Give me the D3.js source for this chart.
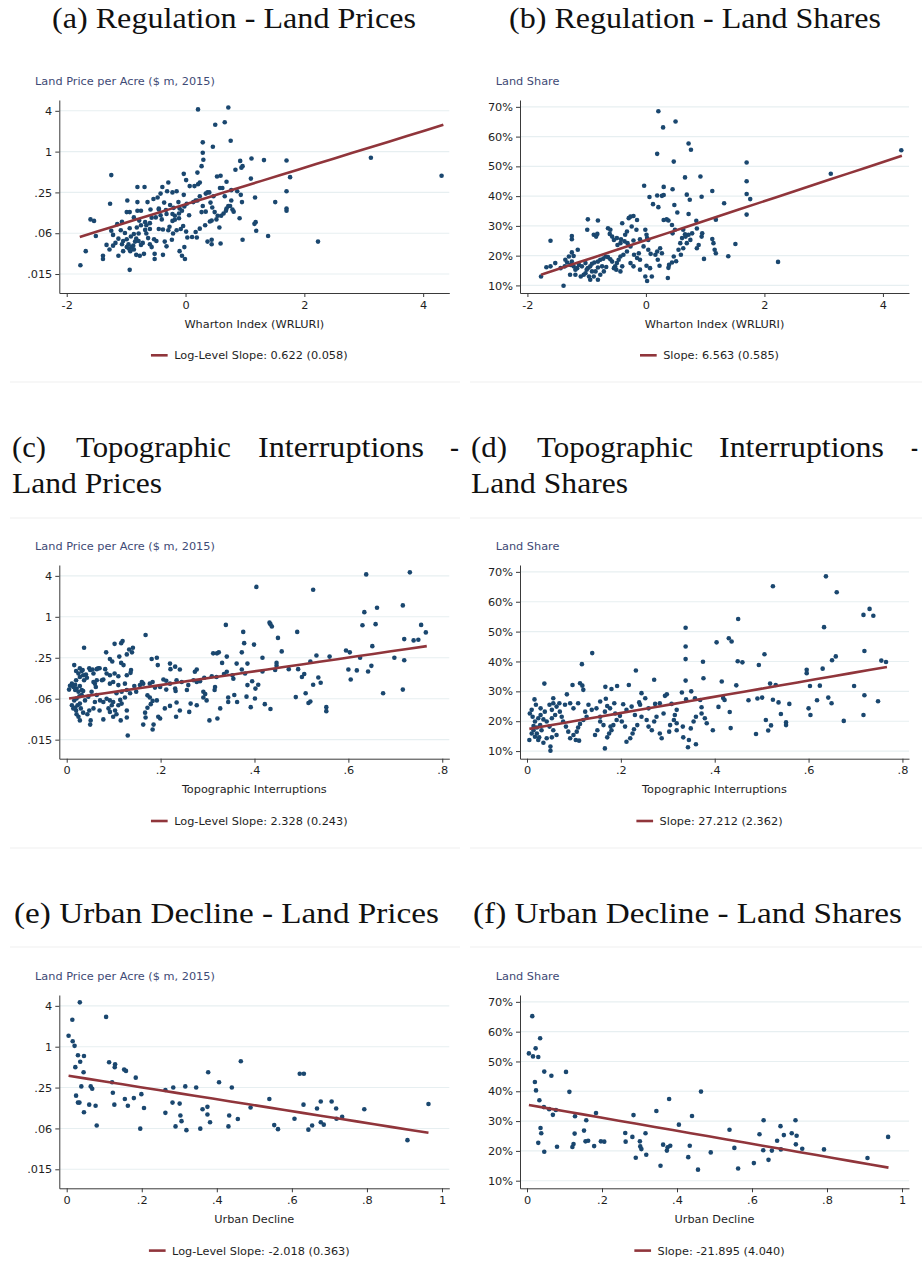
<!DOCTYPE html>
<html><head><meta charset="utf-8">
<script src="https://cdn.jsdelivr.net/npm/d3@7"></script>
<style>body{margin:0;background:#fff}</style>
</head><body>
<svg id="c" width="922" height="1270"></svg>
<script>
// ---------------- DATA ----------------
// (a) Wharton index vs land price per acre ($ m, 2015)
const regulationPrices = [
[0.21,4.2],[0.72,4.47],[0.50,2.49],[0.66,2.71],[1.70,0.74],[1.32,0.75],[3.12,0.81],[4.31,0.44],[1.76,0.42],[1.70,0.26],[1.51,0.18],[1.70,0.145],[1.70,0.134],[1.39,0.057],[2.23,0.047],
[0.29,1.37],[0.46,1.18],[0.76,1.45],[0.29,0.96],[0.30,0.76],[0.27,0.61],[0.20,0.49],[1.11,0.79],[0.92,0.73],[0.96,0.61],[0.94,0.58],[0.84,0.54],[0.53,0.43],[0.59,0.44],[-0.03,0.47],[0.01,0.38],[-1.25,0.45],[0.07,0.31],[0.15,0.31],[0.21,0.33],[0.24,0.35],[-0.29,0.35],[-0.39,0.30],[-0.69,0.30],[-0.81,0.30],
[-0.31,0.26],[-0.22,0.25],[-0.15,0.26],[-0.42,0.24],[-0.03,0.23],[0.34,0.24],[0.37,0.25],[0.40,0.25],[0.47,0.22],[0.58,0.29],[0.62,0.29],[0.69,0.36],[1.10,0.40],[1.17,0.21],[0.95,0.18],[0.93,0.23],[0.87,0.26],[0.77,0.27],[0.66,0.22],[-0.47,0.21],[-0.54,0.20],[-1.27,0.17],[-0.98,0.19],[-0.81,0.18],[-0.64,0.18],
[-0.75,0.134],[-0.81,0.134],[-0.99,0.128],[-0.94,0.128],[-0.59,0.14],[-0.45,0.14],[-0.33,0.137],[-0.20,0.148],[-0.10,0.145],[0.02,0.17],[0.13,0.18],[0.20,0.19],[0.29,0.158],[0.34,0.13],[0.42,0.177],[0.45,0.15],[0.49,0.128],[0.54,0.113],[0.64,0.122],[0.69,0.145],[0.72,0.157],[0.79,0.14],[0.81,0.13],[0.91,0.104],[1.18,0.091],[1.16,0.086],[1.19,0.068],[0.96,0.05],[0.59,0.044],[0.44,0.05],[0.37,0.047],[0.33,0.082],[0.57,0.076],
[0.06,0.115],[-0.11,0.104],[-0.22,0.095],[-0.18,0.099],[-0.27,0.078],[-0.40,0.10],[-0.57,0.106],[-0.68,0.091],[-0.87,0.107],[-0.78,0.096],[-1.07,0.092],[-1.15,0.085],[-1.25,0.068],[-1.22,0.059],[-1.51,0.057],[-1.60,0.10],[-1.54,0.095],[-1.33,0.042],[-1.28,0.036],[-1.39,0.029],[-1.39,0.026],[-1.68,0.034],[-1.77,0.021],[-1.13,0.029],[-1.05,0.034],[-0.99,0.039],[-0.95,0.037],[-0.91,0.039],[-0.88,0.041],[-0.87,0.036],[-0.93,0.034],[-0.96,0.043],[-0.85,0.047],[-0.79,0.048],[-0.77,0.029],[-0.70,0.031],[-0.83,0.030],[-0.94,0.018],
[-0.52,0.026],[-0.52,0.031],[-0.38,0.030],[-0.32,0.040],[-0.35,0.047],[-0.49,0.048],[-0.53,0.051],[-0.60,0.043],[-0.57,0.039],[-0.63,0.053],[-0.72,0.045],[-0.75,0.042],[-0.66,0.062],[-0.79,0.062],[-0.87,0.061],[-1.02,0.063],[-1.09,0.069],[-1.13,0.052],[-1.18,0.045],[-1.22,0.041],[-1.07,0.043],[-1.05,0.048],[-0.99,0.051],[-0.92,0.056],[-0.83,0.052],[-0.68,0.070],[-0.60,0.072],[-0.82,0.076],[-0.94,0.074],[-0.75,0.082],[-0.66,0.082],[-0.60,0.088],[-0.45,0.072],[-0.38,0.071],[-0.29,0.069],[-0.21,0.062],[-0.23,0.050],[-0.15,0.069],[-0.08,0.072],[-0.04,0.080],[0.01,0.066],[0.03,0.054],[0.11,0.055],[0.17,0.065],[-0.10,0.034],[-0.06,0.029],[-0.01,0.026],[-0.02,0.039],
[0.19,0.054],[0.24,0.073],[0.41,0.093],[0.44,0.096],[0.44,0.043],[0.52,0.10],[0.60,0.113],[0.68,0.134],[0.75,0.158],[0.77,0.19],[0.24,0.22],[0.17,0.19],[0.27,0.128],[-0.18,0.113],[-0.11,0.122],[-0.06,0.134],[-0.02,0.155],[-0.12,0.18],[-0.26,0.163],[-0.36,0.177],[-0.42,0.115],[-0.50,0.107],[-0.32,0.12],[-0.22,0.12],[-0.45,0.145]
];
// (b) Wharton index vs land share (%)
const regulationShares = [
[0.21,68.5],[0.29,63.1],[0.50,65.1],[0.72,57.7],[0.76,55.6],[0.19,54.2],[0.47,51.6],[0.66,46.3],[0.92,46.6],[1.70,51.3],[1.70,45.0],[1.70,40.7],[1.76,39.0],[1.70,33.8],[3.12,47.5],[4.31,55.4],[1.12,41.7],[1.32,37.6],[1.51,23.9],[1.39,19.8],[2.23,17.9],[1.18,32.1],[1.16,22.0],[1.18,20.8],[1.14,24.2],[1.12,25.6],[0.98,18.9],[0.30,43.1],[0.45,42.3],[-0.03,43.5],[0.06,39.7],[0.19,40.2],[0.27,40.1],[0.30,40.4],[0.12,37.3],[0.21,36.3],[0.48,37.0],[0.69,40.5],[0.74,38.8],[0.94,39.8],[0.53,34.5],[0.72,34.0],[0.85,31.7],
[0.30,32.0],[0.35,32.2],[0.38,31.8],[0.44,30.3],[0.49,28.7],[0.45,27.5],[0.78,27.5],[0.86,29.1],[0.95,27.5],[0.94,26.4],[0.89,23.6],[0.86,22.5],[0.63,28.7],[0.66,27.2],[0.67,26.4],[0.72,27.0],[0.61,25.9],[0.58,24.2],[0.69,24.2],[0.75,25.3],[0.63,22.5],[0.55,22.0],[0.59,20.3],[0.47,19.7],[0.51,18.1],[0.44,17.7],[0.39,16.9],[0.38,15.9],[0.37,12.5],
[0.24,22.5],[0.19,21.4],[0.27,20.8],[0.16,20.3],[0.20,18.6],[0.23,16.6],[0.07,15.8],[0.01,16.6],[-0.01,13.0],[0.10,13.0],[0.02,11.5],[-0.10,15.3],[-0.12,20.8],[-0.10,18.6],[-0.15,19.2],[-0.20,20.3],[-0.21,16.4],[-0.26,17.5],[-0.26,23.1],[-0.32,21.4],[-0.38,20.3],[-0.43,19.7],[-0.46,18.6],[-0.49,17.5],[-0.52,16.4],[-0.40,16.4],[-0.43,14.7],[-0.50,15.3],[-0.54,15.8],[-0.57,18.0],[-0.60,18.8],[-0.64,19.5],[-0.68,19.7],[-0.72,19.0],[-0.77,18.6],[-0.81,18.0],[-0.87,17.7],[-0.91,17.3],[-0.94,16.4],[-0.98,15.8],[-1.00,15.3],[-1.02,14.1],[-1.05,13.6],[-0.96,13.0],[-0.94,11.9],[-0.88,13.0],[-0.81,11.9],[-0.77,13.6],[-0.71,14.7],[-0.67,16.2],[-0.74,16.4],[-0.81,16.0],[-0.85,14.7],[-0.91,14.7],
[-1.02,17.5],[-1.08,16.4],[-1.13,16.9],[-1.16,15.8],[-1.19,15.3],[-1.22,16.4],[-1.27,16.9],[-1.33,17.7],[-1.36,18.6],[-1.25,18.0],[-1.22,19.9],[-1.25,21.1],[-1.30,19.7],[-1.37,16.4],[-1.44,15.8],[-1.53,17.5],[-1.61,16.4],[-1.68,16.1],[-1.77,13.0],[-1.39,9.9],[-1.28,13.6],[-1.19,13.6],[-1.10,13.0],[-0.98,32.2],[-0.81,31.8],[-0.99,28.7],[-1.25,26.6],[-1.25,25.5],[-1.61,25.0],[-1.15,22.0],[-0.88,27.0],[-0.82,27.3],[-0.84,26.4],[-0.64,29.2],[-0.60,28.7],[-0.61,27.3],[-0.57,26.4],[-0.54,25.3],[-0.49,25.9],[-0.48,23.6],[-0.43,24.2],
[-0.40,30.9],[-0.29,32.6],[-0.26,33.1],[-0.21,33.3],[-0.15,32.0],[-0.24,29.8],[-0.16,28.7],[-0.32,28.1],[-0.35,27.0],[-0.01,28.7],[0.01,27.0],[0.02,25.9],[0.04,25.3],[-0.42,25.5],[-0.36,24.8],[-0.31,24.2],[-0.21,25.1],[-0.10,25.5],[-0.04,23.1],[0.04,22.0],[0.08,20.6]
];
// (c) topographic interruptions vs land price per acre
const topographyPrices = [
[0.404,2.75],[0.638,4.2],[0.731,4.5],[0.525,2.5],[0.634,1.17],[0.661,1.36],[0.716,1.47],[0.630,0.75],[0.658,0.78],[0.755,0.76],[0.765,0.59],[0.719,0.47],[0.739,0.45],[0.749,0.46],[0.651,0.37],[0.595,0.32],[0.603,0.30],[0.625,0.25],[0.698,0.25],[0.719,0.23],[0.649,0.19],[0.642,0.157],[0.618,0.163],[0.600,0.168],[0.605,0.12],[0.674,0.075],[0.716,0.085],[0.560,0.26],[0.532,0.27],[0.519,0.22],[0.493,0.17],[0.506,0.144],[0.501,0.13],[0.536,0.128],[0.541,0.107],[0.525,0.10],[0.473,0.17],[0.458,0.31],[0.450,0.49],[0.491,0.60],[0.432,0.82],[0.434,0.78],[0.437,0.72],[0.488,0.066],[0.509,0.075],[0.515,0.054],[0.519,0.057],[0.553,0.047],[0.553,0.041],[0.447,0.21],[0.447,0.19],[0.444,0.165],[0.417,0.25],[0.417,0.157],[0.422,0.052],[0.434,0.044],[0.408,0.10],[0.399,0.39],
[0.168,0.54],[0.119,0.44],[0.116,0.41],[0.102,0.40],[0.141,0.35],[0.133,0.33],[0.037,0.35],[0.084,0.30],[0.112,0.26],[0.128,0.28],[0.139,0.30],[0.092,0.24],[0.097,0.22],[0.116,0.21],[0.121,0.195],[0.137,0.165],[0.181,0.24],[0.192,0.25],[0.194,0.195],[0.220,0.205],[0.231,0.185],[0.221,0.17],[0.241,0.168],[0.016,0.195],[0.028,0.175],[0.032,0.16],[0.025,0.147],[0.020,0.16],[0.050,0.165],[0.057,0.147],[0.064,0.17],[0.070,0.175],[0.041,0.142],[0.082,0.17],[0.085,0.147],[0.092,0.138],[0.102,0.147],[0.110,0.134],[0.128,0.138],[0.136,0.15],
[0.078,0.12],[0.064,0.117],[0.060,0.104],[0.062,0.093],[0.057,0.11],[0.043,0.127],[0.037,0.117],[0.011,0.104],[0.007,0.097],[0.018,0.10],[0.014,0.093],[0.021,0.088],[0.005,0.085],[0.028,0.096],[0.032,0.084],[0.035,0.081],[0.092,0.104],[0.099,0.11],[0.110,0.099],[0.124,0.104],[0.144,0.096],[0.156,0.099],[0.163,0.104],[0.177,0.104],[0.183,0.11],[0.206,0.12],[0.212,0.115],[0.220,0.104],[0.231,0.088],[0.245,0.11],[0.270,0.117],[0.277,0.11],[0.293,0.127],[0.309,0.134],[0.319,0.13],[0.335,0.144],[0.341,0.156],[0.355,0.123],
[0.339,0.76],[0.376,0.60],[0.378,0.41],[0.373,0.30],[0.312,0.29],[0.320,0.29],[0.324,0.30],[0.341,0.26],[0.331,0.21],[0.362,0.205],[0.385,0.205],[0.373,0.168],[0.380,0.147],[0.353,0.138],[0.395,0.113],[0.385,0.099],[0.402,0.088],[0.401,0.063],[0.383,0.067],[0.392,0.047],[0.363,0.056],[0.357,0.071],[0.344,0.065],[0.344,0.056],[0.327,0.045],[0.321,0.032],[0.304,0.030],[0.316,0.093],[0.315,0.084],[0.284,0.113],[0.291,0.079],[0.295,0.073],[0.291,0.065],[0.298,0.059],[0.264,0.053],[0.277,0.168],[0.273,0.156],[0.259,0.099],[0.256,0.084],[0.234,0.117],[0.232,0.081],[0.212,0.085],[0.199,0.093],[0.188,0.091],
[0.177,0.065],[0.183,0.058],[0.172,0.07],[0.179,0.052],[0.172,0.046],[0.167,0.039],[0.168,0.033],[0.163,0.026],[0.185,0.026],[0.183,0.022],[0.195,0.034],[0.199,0.032],[0.192,0.059],[0.209,0.045],[0.220,0.049],[0.234,0.055],[0.241,0.042],[0.233,0.034],[0.261,0.04],[0.277,0.05],[0.130,0.018],[0.160,0.11],[0.148,0.079],[0.135,0.075],[0.128,0.084],[0.124,0.065],[0.117,0.079],[0.106,0.075],[0.114,0.06],[0.099,0.056],[0.092,0.059],[0.085,0.0625],[0.078,0.056],[0.071,0.059],[0.064,0.071],[0.060,0.056],
[0.096,0.05],[0.089,0.045],[0.092,0.04],[0.099,0.034],[0.103,0.042],[0.110,0.05],[0.117,0.053],[0.128,0.042],[0.128,0.033],[0.115,0.030],[0.106,0.037],[0.078,0.031],[0.070,0.042],[0.057,0.045],[0.048,0.042],[0.044,0.037],[0.051,0.030],[0.050,0.026],[0.028,0.030],[0.025,0.034],[0.021,0.037],[0.020,0.042],[0.018,0.046],[0.023,0.05],[0.028,0.053],[0.014,0.045],[0.011,0.05],[0.016,0.059],[0.021,0.063],[0.027,0.068],[0.032,0.071],[0.025,0.079],[0.018,0.084],[0.020,0.117],[0.028,0.13],[0.035,0.138],[0.034,0.165],[0.048,0.175],[0.055,0.168],[0.067,0.175],[0.075,0.117],[0.039,0.059],[0.046,0.067],[0.053,0.079],[0.030,0.045],[0.035,0.039]
];
// (d) topographic interruptions vs land share (%)
const topographyShares = [
[0.637,68.5],[0.524,65.2],[0.660,63.2],[0.730,57.6],[0.717,55.6],[0.738,55.3],[0.450,54.2],[0.338,51.3],[0.633,51.5],[0.338,45.0],[0.338,40.8],[0.338,33.6],[0.430,47.8],[0.436,46.7],[0.404,46.4],[0.449,40.1],[0.459,39.7],[0.506,42.4],[0.494,38.8],[0.596,37.2],[0.596,36.1],[0.630,37.6],[0.658,41.7],[0.650,40.4],[0.719,43.5],[0.755,40.3],[0.765,39.8],[0.375,39.9],[0.446,32.0],[0.518,32.6],[0.530,32.1],[0.472,27.0],[0.491,27.6],[0.501,27.9],[0.524,27.2],[0.536,26.3],[0.559,25.8],[0.541,22.4],[0.552,19.6],[0.552,18.7],[0.509,20.4],[0.520,18.6],[0.514,16.9],[0.488,15.7],[0.603,31.8],[0.600,24.3],[0.604,22.1],[0.618,27.0],[0.624,31.9],[0.642,27.9],[0.649,26.0],[0.675,20.1],[0.697,31.8],[0.717,22.1],[0.719,28.7],[0.748,26.7],[0.434,17.7],[0.432,23.1],[0.418,27.8],[0.421,27.1],[0.415,33.3],[0.408,24.8],[0.345,13.7],[0.343,11.3],[0.360,12.3],
[0.139,42.8],[0.117,39.1],[0.037,32.6],[0.016,27.3],[0.097,32.1],[0.113,32.7],[0.118,31.9],[0.120,30.5],[0.085,29.0],[0.167,31.5],[0.180,30.8],[0.192,31.8],[0.217,32.1],[0.232,37.0],[0.271,33.9],[0.273,25.8],[0.239,26.3],[0.241,25.5],[0.294,28.5],[0.298,29.0],[0.339,27.3],[0.376,34.4],[0.330,29.6],[0.350,30.0],[0.358,27.7],[0.369,27.1],[0.372,24.7],[0.372,22.6],[0.379,21.0],[0.383,19.3],[0.396,17.0],[0.360,21.5],[0.355,19.9],[0.349,17.6],[0.332,18.2],[0.333,14.6],
[0.315,22.1],[0.313,20.4],[0.319,19.3],[0.319,17.0],[0.303,16.5],[0.305,18.7],[0.283,15.9],[0.287,14.3],[0.276,21.5],[0.271,19.9],[0.259,18.2],[0.266,17.0],[0.255,20.4],[0.244,21.5],[0.235,18.7],[0.228,17.3],[0.225,15.9],[0.220,14.3],[0.212,13.1],[0.209,18.2],[0.202,19.9],[0.198,21.8],[0.191,20.4],[0.184,18.7],[0.180,17.0],[0.175,15.9],[0.171,14.6],[0.166,10.9],[0.178,18.2],[0.163,18.7],[0.156,19.9],[0.150,17.0],[0.145,15.4],[0.156,21.5],[0.166,23.2],[0.177,24.3],[0.188,22.6],[0.148,24.3],[0.138,23.8],[0.131,25.5],[0.124,23.2],[0.127,21.5],[0.120,20.4],[0.113,19.1],[0.109,17.9],[0.106,16.5],[0.099,15.4],[0.104,13.7],[0.111,13.5],[0.092,14.3],[0.088,16.5],[0.083,18.2],[0.077,19.9],[0.074,21.5],[0.070,23.2],[0.063,24.9],[0.056,26.0],[0.048,25.5],[0.053,23.8],[0.060,22.1],[0.053,21.0],[0.042,19.9],[0.048,18.2],[0.056,17.0],[0.063,15.4],[0.053,14.6],[0.042,14.3],[0.035,12.8],[0.050,11.5],[0.050,10.1],
[0.024,13.7],[0.017,14.8],[0.010,15.9],[0.005,13.7],[0.014,17.0],[0.021,17.9],[0.028,18.7],[0.017,19.9],[0.024,21.0],[0.012,21.5],[0.006,22.6],[0.029,22.1],[0.035,20.6],[0.031,17.0],[0.021,15.9],[0.026,14.6],[0.014,18.4],[0.038,23.2],[0.029,24.3],[0.010,23.8],[0.019,25.5],[0.056,27.7],[0.069,26.0],[0.081,25.5],[0.092,26.0],[0.099,24.3],[0.109,26.0],[0.205,25.7],[0.212,23.8],[0.223,24.9],[0.259,24.3],[0.283,26.0],[0.308,25.8],[0.319,23.8],[0.291,22.6],[0.230,22.1],[0.252,27.7],[0.244,29.4],[0.186,26.0],[0.156,26.6],[0.168,27.5],[0.171,25.1]
];
// (e) urban decline vs land price per acre
const declinePrices = [
[0.005,1.45],[0.015,2.5],[0.035,4.5],[0.016,1.2],[0.021,1.03],[0.105,2.75],[0.030,0.75],[0.046,0.73],[0.036,0.60],[0.023,0.50],[0.045,0.42],[0.039,0.26],[0.064,0.26],[0.068,0.24],[0.025,0.19],[0.030,0.15],[0.034,0.15],[0.060,0.14],[0.046,0.108],[0.077,0.135],[0.080,0.069],[0.113,0.59],[0.129,0.55],[0.128,0.50],[0.153,0.46],[0.158,0.44],[0.184,0.35],[0.121,0.30],[0.123,0.21],[0.127,0.14],[0.155,0.17],[0.163,0.135],[0.179,0.175],[0.199,0.20],[0.206,0.125],[0.196,0.062],[0.263,0.23],[0.284,0.25],[0.282,0.15],[0.301,0.145],[0.303,0.097],[0.306,0.08],[0.290,0.067],[0.263,0.106],[0.316,0.26],[0.319,0.059],[0.345,0.25],[0.356,0.062],[0.362,0.12],[0.375,0.13],[0.375,0.10],[0.377,0.42],[0.382,0.077],[0.406,0.30],[0.431,0.067],[0.433,0.097],[0.440,0.25],[0.456,0.086],[0.464,0.61],[0.490,0.127],[0.540,0.17],[0.553,0.07],[0.563,0.061],[0.607,0.087],[0.621,0.40],[0.632,0.40],[0.631,0.14],[0.644,0.06],[0.654,0.069],[0.667,0.123],[0.677,0.156],[0.677,0.077],[0.685,0.071],[0.706,0.156],[0.718,0.123],[0.719,0.087],[0.734,0.093],[0.793,0.12],[0.908,0.042],[0.964,0.143]
];
// (f) urban decline vs land share (%)
const declineShares = [
[0.014,65.2],[0.005,52.7],[0.016,51.7],[0.023,54.4],[0.030,51.5],[0.035,57.8],[0.021,43.1],[0.024,40.3],[0.033,37.0],[0.046,46.6],[0.065,45.2],[0.045,34.7],[0.059,34.0],[0.077,33.7],[0.069,32.1],[0.036,27.7],[0.038,25.9],[0.030,22.7],[0.046,19.7],[0.080,21.4],[0.104,46.5],[0.113,39.8],[0.128,31.6],[0.127,25.8],[0.124,22.3],[0.121,21.3],[0.152,26.8],[0.158,30.3],[0.156,23.2],[0.163,23.4],[0.179,21.6],[0.184,32.7],[0.197,23.2],[0.206,23.1],[0.262,26.0],[0.263,23.1],[0.281,24.7],[0.284,32.0],[0.290,17.7],[0.301,23.2],[0.302,21.5],[0.305,20.6],[0.316,25.9],[0.318,18.7],[0.345,33.4],[0.356,15.0],[0.363,22.1],[0.373,20.1],[0.375,21.2],[0.379,37.4],[0.382,21.7],[0.405,28.8],[0.430,17.9],[0.434,21.7],[0.440,31.7],[0.456,13.7],[0.464,39.9],[0.490,19.5],[0.540,27.1],[0.553,21.0],[0.563,14.1],[0.605,15.9],[0.620,25.6],[0.630,20.2],[0.631,30.3],[0.644,17.0],[0.653,20.1],[0.667,23.4],[0.676,28.3],[0.677,20.5],[0.685,25.3],[0.706,25.9],[0.716,30.3],[0.717,22.2],[0.719,25.1],[0.734,20.7],[0.792,20.5],[0.908,17.6],[0.963,24.7]
];
// fitted regressions (price panels: log-level, ln(price) = a + b*x ; share panels: share% = a + b*x)
const fitSlopes     = [0.622, 6.563, 2.328, 27.212, -2.018, -21.895];
const fitSlopeSE    = [0.058, 0.585, 0.243, 2.362, 0.363, 4.040];
const fitIntercepts = [-1.79, 25.2, -2.777, 17.3, -0.976, 35.5];
const priceTicks = [4, 1, 0.25, 0.0625, 0.015625];
const priceTickLabels = ['4', '1', '.25', '.06', '.015'];
const shareTicks = [10, 20, 30, 40, 50, 60, 70];
const whartonTicks = [-2, 0, 2, 4];
const topoTicks = [0, 0.2, 0.4, 0.6, 0.8];
const declineTicks = [0, 0.2, 0.4, 0.6, 0.8, 1];
const xTitles = ['Wharton Index (WRLURI)', 'Topographic Interruptions', 'Urban Decline'];
const yTitles = ['Land Price per Acre ($ m, 2015)', 'Land Share'];

// ---------------- LAYOUT ----------------
const svg = d3.select('#c');
const SANS = 'DejaVu Sans, sans-serif';
const SERIF = 'Liberation Serif, serif';
const FS = 11.3;
const cols = [{left: 59.3, right: 449.3}, {left: 520, right: 909}];
const rows = [{top: 100, bottom: 293}, {top: 565, bottom: 758.7}, {top: 995, bottom: 1188.3}];

const panels = [
  {row:0, col:0, data: regulationPrices, kind:'price', xd:[-2.125, 4.44], ticks: whartonTicks, xr:[-1.78, 4.34]},
  {row:0, col:1, data: regulationShares, kind:'share', xd:[-2.125, 4.44], ticks: whartonTicks, xr:[-1.77, 4.32]},
  {row:1, col:0, data: topographyPrices, kind:'price', xd:[-0.0158, 0.815], ticks: topoTicks, xr:[0.005, 0.767]},
  {row:1, col:1, data: topographyShares, kind:'share', xd:[-0.0149, 0.814], ticks: topoTicks, xr:[0.005, 0.767]},
  {row:2, col:0, data: declinePrices, kind:'price', xd:[-0.0197, 1.0195], ticks: declineTicks, xr:[0.005, 0.964]},
  {row:2, col:1, data: declineShares, kind:'share', xd:[-0.0187, 1.0187], ticks: declineTicks, xr:[0.005, 0.964]}
];

function fmtX(d) {
  if (d === 0) return '0';
  if (Number.isInteger(d)) return String(d);
  return String(d).replace('0.', '.');
}

// faint separators
[382, 518, 848, 947].forEach(yy => {
  svg.append('line').attr('x1', 10).attr('x2', 460).attr('y1', yy).attr('y2', yy).attr('stroke', '#efefef').attr('stroke-width', 1);
  svg.append('line').attr('x1', 470).attr('x2', 922).attr('y1', yy).attr('y2', yy).attr('stroke', '#efefef').attr('stroke-width', 1);
});

panels.forEach((p, i) => {
  const {left, right} = cols[p.col];
  const {top, bottom} = rows[p.row];
  const g = svg.append('g');
  const x = d3.scaleLinear().domain(p.xd).range([left, right]);
  const y = p.kind === 'price'
    ? d3.scaleLog().base(4).domain([Math.pow(4, -3.465), Math.pow(4, 1.265)]).range([bottom, top])
    : d3.scaleLinear().domain([7.45, 72.3]).range([bottom, top]);
  const yt = p.kind === 'price' ? priceTicks : shareTicks;

  // grid
  g.selectAll('line.grid').data(yt).enter().append('line')
    .attr('x1', left).attr('x2', right)
    .attr('y1', d => y(d)).attr('y2', d => y(d))
    .attr('stroke', '#e7eff1').attr('stroke-width', 1.1);

  // axes
  const yAxis = d3.axisLeft(y).tickValues(yt).tickSize(4).tickSizeOuter(0).tickPadding(3)
    .tickFormat((d, k) => p.kind === 'price' ? priceTickLabels[k] : d + '%');
  const ya = g.append('g').attr('transform', `translate(${left},0)`).call(yAxis);
  const xAxis = d3.axisBottom(x).tickValues(p.ticks).tickSize(4).tickSizeOuter(0).tickPadding(3.5).tickFormat(fmtX);
  const xa = g.append('g').attr('transform', `translate(0,${bottom})`).call(xAxis);
  [ya, xa].forEach(a => {
    a.selectAll('path.domain').attr('stroke', '#3a3a3a').attr('stroke-width', 1);
    a.selectAll('.tick line').attr('stroke', '#3a3a3a');
    a.selectAll('text').attr('font-family', SANS).attr('font-size', FS).attr('fill', '#1e1e1e');
  });

  // points
  g.selectAll('circle').data(p.data).enter().append('circle')
    .attr('cx', d => x(d[0])).attr('cy', d => y(d[1])).attr('r', 2.3)
    .attr('fill', '#1a476f');

  // fit line
  const b = fitSlopes[i], a0 = fitIntercepts[i];
  const pts = d3.range(0, 21).map(k => p.xr[0] + (p.xr[1] - p.xr[0]) * k / 20);
  const fy = v => p.kind === 'price' ? Math.exp(a0 + b * v) : a0 + b * v;
  g.append('path').datum(pts)
    .attr('d', d3.line().x(v => x(v)).y(v => y(fy(v))))
    .attr('fill', 'none').attr('stroke', '#90353b').attr('stroke-width', 2.6);

  // y title
  g.append('text').attr('x', left - 24.3).attr('y', top - 15.5)
    .attr('font-family', SANS).attr('font-size', FS).attr('fill', '#3e4a75')
    .text(p.kind === 'price' ? yTitles[0] : yTitles[1]);
  // x title
  g.append('text').attr('x', (left + right) / 2).attr('y', bottom + 34.5)
    .attr('text-anchor', 'middle').attr('font-family', SANS).attr('font-size', FS).attr('fill', '#1e1e1e')
    .text(xTitles[p.row]);

  // legend
  const label = (p.kind === 'price' ? 'Log-Level Slope: ' : 'Slope: ') + b.toFixed(3) + ' (' + fitSlopeSE[i].toFixed(3) + ')';
  const ly = bottom + 62.3;
  const lt = g.append('text').attr('y', ly + 4).attr('font-family', SANS).attr('font-size', FS).attr('fill', '#1e1e1e').text(label);
  const tw = lt.node().getComputedTextLength();
  const total = 16.7 + 6.5 + tw;
  const lx = (left + right) / 2 - 5 - total / 2;
  g.append('line').attr('x1', lx).attr('x2', lx + 16.7).attr('y1', ly).attr('y2', ly)
    .attr('stroke', '#90353b').attr('stroke-width', 2.6);
  lt.attr('x', lx + 16.7 + 6.5);
});

// ---------------- CAPTIONS ----------------
const captions = [
  {t: '(a) Regulation - Land Prices', x: 52, w: 364, y: 28},
  {t: '(b) Regulation - Land Shares', x: 509, w: 372, y: 28},
  {t: '(e) Urban Decline - Land Prices', x: 14, w: 425, y: 923},
  {t: '(f) Urban Decline - Land Shares', x: 473, w: 429, y: 923}
];
captions.forEach(c => {
  svg.append('text').attr('x', c.x).attr('y', c.y).attr('font-family', SERIF).attr('font-size', 29)
    .attr('fill', '#111').attr('textLength', c.w).attr('lengthAdjust', 'spacingAndGlyphs').text(c.t);
});
const words = [
  {t: '(c)', x: 12, w: 34, y: 457}, {t: 'Topographic', x: 76, w: 155, y: 457}, {t: 'Interruptions', x: 258, w: 166, y: 457}, {t: '-', x: 450, w: 9, y: 457},
  {t: 'Land Prices', x: 12, w: 150, y: 493},
  {t: '(d)', x: 471, w: 36, y: 457}, {t: 'Topographic', x: 537, w: 156, y: 457}, {t: 'Interruptions', x: 719, w: 165, y: 457}, {t: '-', x: 911, w: 7, y: 457},
  {t: 'Land Shares', x: 471, w: 157, y: 493}
];
words.forEach(c => {
  svg.append('text').attr('x', c.x).attr('y', c.y).attr('font-family', SERIF).attr('font-size', 29)
    .attr('fill', '#111').attr('textLength', c.w).attr('lengthAdjust', 'spacingAndGlyphs').text(c.t);
});
</script>
</body></html>
